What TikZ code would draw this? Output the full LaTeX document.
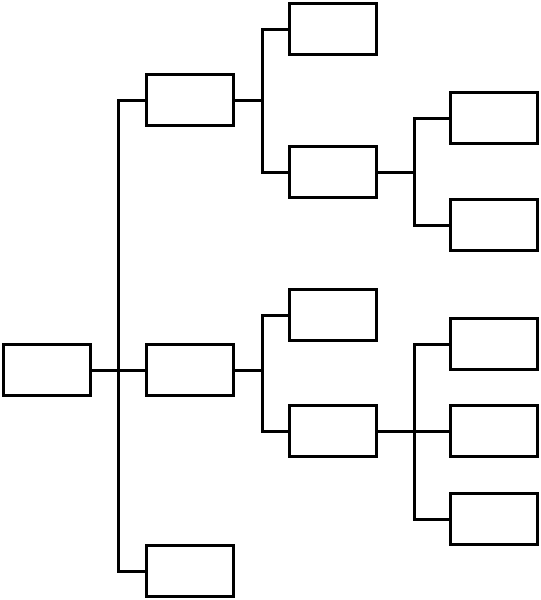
\documentclass[tikz,border=0pt]{standalone}
\usetikzlibrary{positioning}
\tikzset{
  box/.style={draw=black, line width=3pt, minimum width=87pt, minimum height=51pt, inner sep=0pt},
  link/.style={black, line width=3pt}
}
\begin{document}
\begin{tikzpicture}[x=1pt, y=-1pt]
  \useasboundingbox (0,0) rectangle (541,600);
  % root and first level
  \node[box] (root) at (47,370) {};
  \node[box] (a1) at (190,100) {};
  \node[box] (a2) at (190,370) {};
  \node[box] (a3) at (190,571) {};
  % second level
  \node[box] (b1) at (333,29) {};
  \node[box] (b2) at (333,172) {};
  \node[box] (b3) at (333,315) {};
  \node[box] (b4) at (333,431) {};
  % third level
  \node[box] (c1) at (494,118) {};
  \node[box] (c2) at (494,225) {};
  \node[box] (c3) at (494,344) {};
  \node[box] (c4) at (494,431) {};
  \node[box] (c5) at (494,519) {};
  % junctions
  \coordinate (j0) at (118,370);
  \coordinate (j1) at (262,100);
  \coordinate (j2) at (262,370);
  \coordinate (j3) at (414,172);
  \coordinate (j4) at (414,431);
  % connectors
  \draw[link] (root.east) -- (j0);
  \draw[link] (j0) |- (a1.west);
  \draw[link] (j0) -- (a2.west);
  \draw[link] (j0) |- (a3.west);
  \draw[link] (a1.east) -- (j1);
  \draw[link] (j1) |- (b1.west);
  \draw[link] (j1) |- (b2.west);
  \draw[link] (a2.east) -- (j2);
  \draw[link] (j2) |- (b3.west);
  \draw[link] (j2) |- (b4.west);
  \draw[link] (b2.east) -- (j3);
  \draw[link] (j3) |- (c1.west);
  \draw[link] (j3) |- (c2.west);
  \draw[link] (b4.east) -- (j4);
  \draw[link] (j4) |- (c3.west);
  \draw[link] (j4) -- (c4.west);
  \draw[link] (j4) |- (c5.west);
\end{tikzpicture}
\end{document}
